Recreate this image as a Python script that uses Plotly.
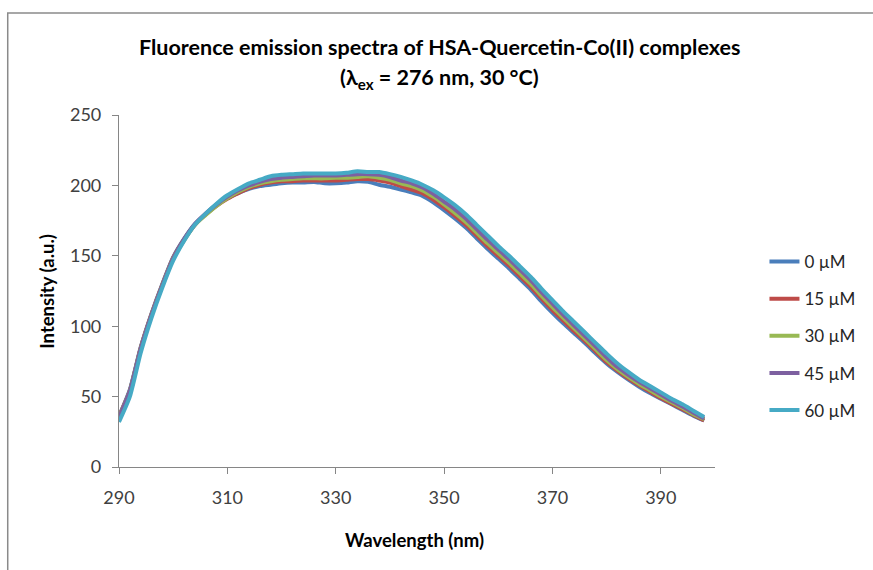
import plotly.graph_objects as go

wavelength = list(range(290, 400, 2))

conc_labels = ["0 \u00b5M", "15 \u00b5M", "30 \u00b5M", "45 \u00b5M", "60 \u00b5M"]

i_0uM = [36, 55, 85, 109, 130, 149, 162, 172.5, 179.5, 186, 191, 194.5, 197.5, 199.5, 200.5,
         201.5, 202, 202, 202.5, 201.5, 201.5, 202, 203, 202.5, 200.5, 199, 197, 195, 192.5,
         188, 182.5, 176.5, 170, 162.5, 155, 148, 141, 133.5, 126, 117.5, 109.5, 102, 95, 88,
         80.5, 73.5, 67.5, 62, 57, 52.5, 48.5, 44.5, 40.5, 36.5, 33]
i_15uM = [36, 54, 84.5, 108.5, 129.5, 148.5, 161.5, 172, 179.5, 185.5, 190.5, 194.5, 198, 200.5,
          202, 203, 203, 203.5, 203.5, 203.5, 203.5, 204, 204.5, 204.5, 203.5, 202, 199.5, 197,
          194.5, 190, 184.5, 178.5, 172, 164.5, 157, 150, 143, 135.5, 128, 119.5, 111.5, 104,
          96.5, 89.5, 82, 74.5, 68.5, 63, 58, 53.5, 49, 45, 41, 37, 33]
i_30uM = [35, 54, 84, 108, 129, 148, 161, 172, 179, 185.5, 191, 195.5, 199, 201.5, 203, 204,
          204.5, 205, 205, 205, 205.5, 205.5, 206, 206.5, 205.5, 204, 201.5, 199.5, 196.5, 192,
          186.5, 180.5, 174, 166.5, 159, 152, 145, 137.5, 130, 121.5, 113.5, 106, 98.5, 91,
          83.5, 76, 69.5, 64, 59, 54.5, 50, 46, 42, 37.5, 34]
i_45uM = [35, 54, 84, 108, 129, 148, 161.5, 172.5, 180, 186.5, 192, 196.5, 200, 202.5, 204.5,
          205.5, 206, 206.5, 207, 207, 207, 207.5, 208, 208, 207.5, 206, 203.5, 201.5, 198.5,
          194, 188.5, 183, 176.5, 169, 161.5, 154.5, 147.5, 140, 132.5, 124, 116, 108, 100.5,
          93, 85.5, 78, 71, 65.5, 60.5, 56, 51.5, 47, 43, 38.5, 34.5]
i_60uM = [32, 50, 81, 106, 127.5, 146.5, 160.5, 172, 180, 187, 193, 197.5, 201.5, 204, 206.5,
          207.5, 208, 208.5, 208.5, 208.5, 208.5, 209, 210, 209.5, 209.5, 208, 206, 203.5, 200.5,
          196.5, 191.5, 186, 179.5, 172, 164.5, 157, 150, 142.5, 135, 126.5, 118.5, 110.5, 103,
          95.5, 88, 80.5, 73.5, 67.5, 62, 57.5, 53, 48.5, 44.5, 40, 35.5]

series = [i_0uM, i_15uM, i_30uM, i_45uM, i_60uM]
colors = ["#4A7EBB", "#BE4B48", "#98B954", "#7D60A0", "#46AAC5"]

x_ticks = [290, 310, 330, 350, 370, 390]
y_ticks = [0, 50, 100, 150, 200, 250]

FONT = "Lato"

fig = go.Figure()
for name, ys, c in zip(conc_labels, series, colors):
    fig.add_trace(go.Scatter(
        x=wavelength, y=ys, mode="lines", name=name, legendgroup=name,
        line=dict(color=c, width=4, shape="spline", smoothing=0.6),
    ))

axis_col = "#868686"
fig.update_layout(
    width=873, height=570,
    margin=dict(l=119, r=144, t=115, b=103),
    paper_bgcolor="white", plot_bgcolor="white",
    font=dict(family=FONT, color="#262626"),
    showlegend=True,
    legend=dict(
        x=1.083, xanchor="left", y=0.372, yanchor="middle",
        font=dict(size=17, family=FONT, color="#262626"),
        tracegroupgap=12, bgcolor="rgba(0,0,0,0)",
    ),
    xaxis=dict(
        range=[290, 400], tickvals=x_ticks, ticktext=[str(v) for v in x_ticks],
        showgrid=False, zeroline=False, showline=True, linecolor=axis_col, linewidth=1.2,
        ticks="outside", ticklen=6, tickcolor=axis_col, tickwidth=1.2,
        tickfont=dict(size=18, family=FONT, color="#404040"), ticklabelstandoff=8,
    ),
    yaxis=dict(
        range=[0, 250], tickvals=y_ticks,
        showgrid=False, zeroline=False, showline=True, linecolor=axis_col, linewidth=1.2,
        ticks="outside", ticklen=6, tickcolor=axis_col, tickwidth=1.2,
        tickfont=dict(size=18, family=FONT, color="#404040"), ticklabelstandoff=7,
    ),
    shapes=[dict(type="rect", xref="paper", yref="paper",
                 x0=-0.1867, x1=1.4, y0=-0.6, y1=1.2898,
                 line=dict(color="#8A8A8A", width=1.5), fillcolor="rgba(0,0,0,0)", layer="below")],
    annotations=[
        dict(text="<b>Fluorence emission spectra of HSA-Quercetin-Co(II) complexes</b>",
             xref="paper", yref="paper", x=0.5375, y=1.193, xanchor="center", yanchor="middle",
             showarrow=False, font=dict(size=21.5, family=FONT, color="black")),
        dict(text="<b>(\u03bb<sub>ex</sub> = 276 nm, 30 \u00b0C)</b>",
             xref="paper", yref="paper", x=0.5375, y=1.105, xanchor="center", yanchor="middle",
             showarrow=False, font=dict(size=21.5, family=FONT, color="black")),
        dict(text="<b>Intensity (a.u.)</b>", xref="paper", yref="paper", x=-0.1212, y=0.5,
             xanchor="center", yanchor="middle", textangle=-90, showarrow=False,
             font=dict(size=18.5, family=FONT, color="black")),
        dict(text="<b>Wavelength (nm)</b>", xref="paper", yref="paper", x=0.4963, y=-0.2074,
             xanchor="center", yanchor="middle", showarrow=False,
             font=dict(size=18.5, family=FONT, color="black")),
    ],
)

fig.write_html("out.html")
